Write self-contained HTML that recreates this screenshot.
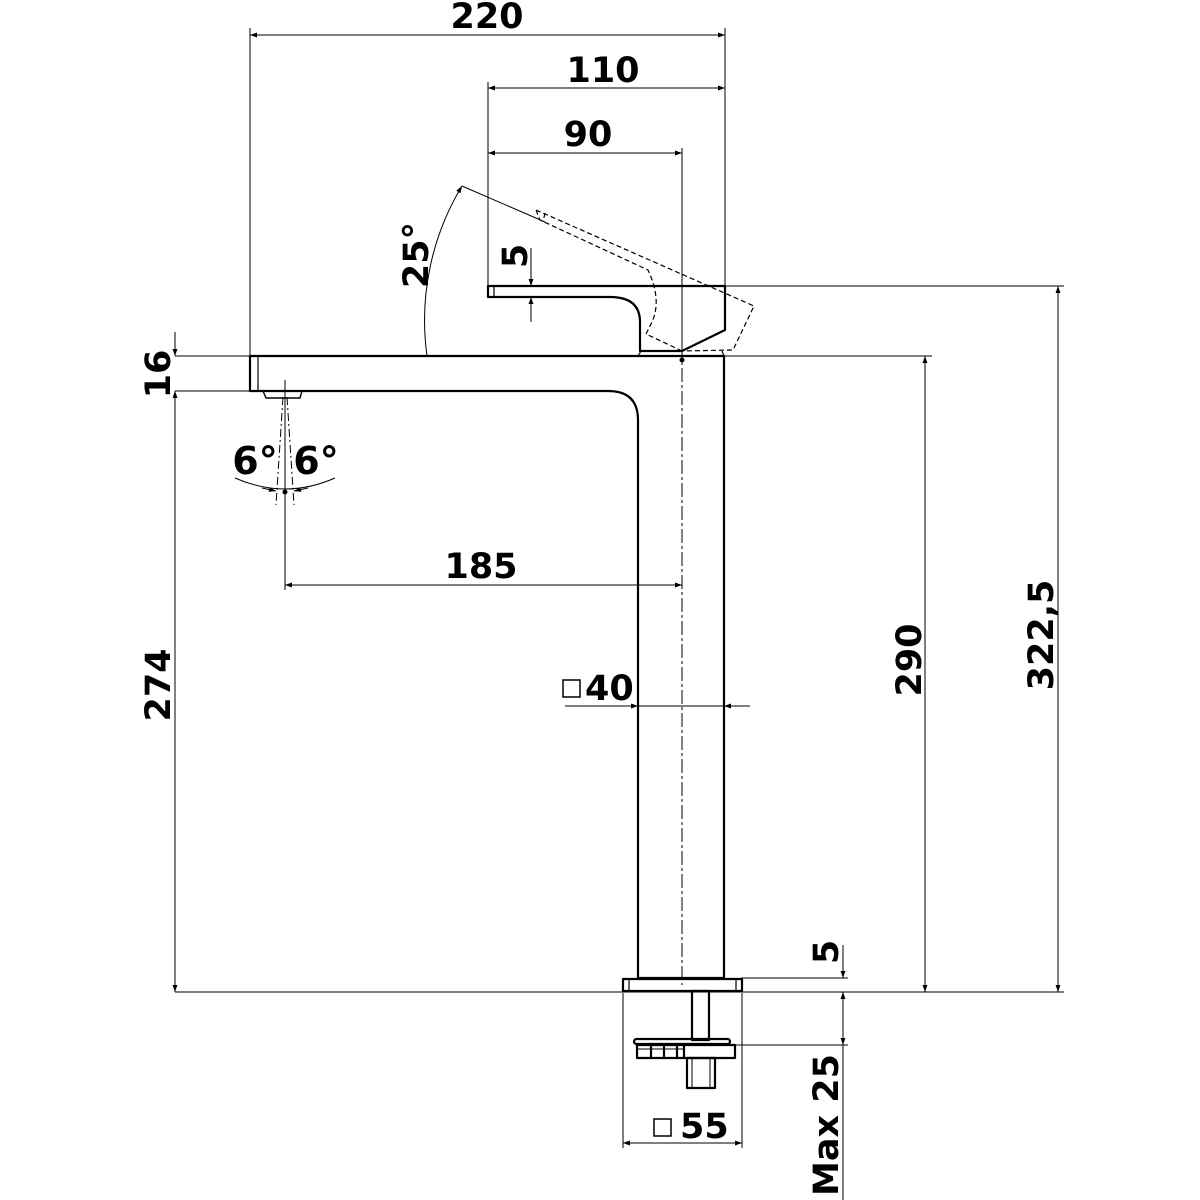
<!DOCTYPE html>
<html><head><meta charset="utf-8"><style>
html,body{margin:0;padding:0;background:#fff}
svg{display:block}
text{font-family:"DejaVu Sans","Liberation Sans",sans-serif;font-weight:bold;font-size:35px;fill:#000}
</style></head><body>
<svg width="1200" height="1200" viewBox="0 0 1200 1200" xmlns="http://www.w3.org/2000/svg">
<defs>
<marker id="a" viewBox="0 0 10 10" refX="10" refY="5" markerWidth="10" markerHeight="7" orient="auto-start-reverse" markerUnits="userSpaceOnUse"><path d="M0,1.5 L10,5 L0,8.5 z" fill="#000"/></marker>
</defs>
<g stroke="#000" stroke-width="1" fill="none">
<line x1="250" y1="28" x2="250" y2="356"/>
<line x1="725" y1="28" x2="725" y2="286"/>
<line x1="488" y1="82" x2="488" y2="286"/>
<line x1="682" y1="148" x2="682" y2="345"/>
<line x1="725" y1="286" x2="1064" y2="286"/>
<line x1="724" y1="356" x2="932" y2="356"/>
<line x1="175" y1="356" x2="250" y2="356"/>
<line x1="175" y1="391" x2="258" y2="391"/>
<line x1="175" y1="992" x2="1064" y2="992"/>
<line x1="735" y1="1045" x2="848" y2="1045"/>
<line x1="741" y1="978" x2="848" y2="978"/>
<line x1="623" y1="993" x2="623" y2="1148"/>
<line x1="742" y1="993" x2="742" y2="1148"/>
<line x1="285" y1="380" x2="285" y2="590"/>
<line x1="250" y1="35" x2="725" y2="35" marker-start="url(#a)" marker-end="url(#a)"/>
<line x1="488" y1="88" x2="725" y2="88" marker-start="url(#a)" marker-end="url(#a)"/>
<line x1="488" y1="153" x2="682" y2="153" marker-start="url(#a)" marker-end="url(#a)"/>
<line x1="285" y1="585" x2="682" y2="585" marker-start="url(#a)" marker-end="url(#a)"/>
<line x1="175" y1="391" x2="175" y2="992" marker-start="url(#a)" marker-end="url(#a)"/>
<line x1="175" y1="332" x2="175" y2="356" marker-end="url(#a)"/>
<line x1="925" y1="356" x2="925" y2="992" marker-start="url(#a)" marker-end="url(#a)"/>
<line x1="1058" y1="286" x2="1058" y2="992" marker-start="url(#a)" marker-end="url(#a)"/>
<line x1="843" y1="945" x2="843" y2="978" marker-end="url(#a)"/>
<line x1="843" y1="992" x2="843" y2="1045" marker-start="url(#a)" marker-end="url(#a)"/>
<line x1="843" y1="1045" x2="843" y2="1200"/>
<line x1="531" y1="248" x2="531" y2="286" marker-end="url(#a)"/>
<line x1="531" y1="297" x2="531" y2="322" marker-start="url(#a)"/>
<line x1="623" y1="1143" x2="742" y2="1143" marker-start="url(#a)" marker-end="url(#a)"/>
<line x1="565" y1="706" x2="638" y2="706" marker-end="url(#a)"/>
<line x1="638" y1="706" x2="724" y2="706"/>
<line x1="750" y1="706" x2="724" y2="706" marker-end="url(#a)"/>
<path d="M427,356 A260,260 0 0 1 462,186" marker-end="url(#a)"/>
<line x1="462" y1="186" x2="545" y2="222"/>
<path d="M235,478 Q285,500 335,478"/>
<line x1="283" y1="397" x2="276" y2="505" stroke-dasharray="8,3,2,3"/>
<line x1="287" y1="397" x2="294" y2="505" stroke-dasharray="8,3,2,3"/>
<line x1="262" y1="488" x2="276" y2="491" marker-end="url(#a)"/>
<line x1="308" y1="488" x2="294" y2="491" marker-end="url(#a)"/>
<line x1="682" y1="345" x2="682" y2="985" stroke-dasharray="14,3,3,3"/>
</g>
<circle cx="682" cy="360" r="2.5" fill="#000"/>
<circle cx="285" cy="492" r="2.5" fill="#000"/>
<g stroke="#000" stroke-width="2.2" fill="none" stroke-linejoin="round">
<path d="M250,356 L724,356 L724,978 L638,978 L638,420 Q638,391 608,391 L250,391 Z"/>
<line x1="258" y1="356" x2="258" y2="391" stroke-width="1.2"/>
<path d="M263,391 L266,398 L300,398 L302,391" stroke-width="1.4"/>
<path d="M488,286 L725,286 L725,330 L682,351 L640,351 L640,322 Q640,297 610,297 L488,297 Z"/>
<line x1="494" y1="286" x2="494" y2="297" stroke-width="1.2"/>
<line x1="641" y1="351" x2="638" y2="356" stroke-width="1.2"/>
<line x1="722" y1="351" x2="724" y2="356" stroke-width="1.2"/>
<rect x="623" y="979" width="119" height="12"/>
<line x1="629" y1="979" x2="629" y2="991" stroke-width="1.2"/>
<line x1="736" y1="979" x2="736" y2="991" stroke-width="1.2"/>
<rect x="692" y="991" width="17" height="49"/>
<rect x="634" y="1039" width="96" height="5" rx="2.5"/>
<rect x="637" y="1045" width="98" height="13"/>
<line x1="651" y1="1045" x2="651" y2="1058"/><line x1="664" y1="1045" x2="664" y2="1058"/><line x1="677" y1="1045" x2="677" y2="1058"/><line x1="684" y1="1045" x2="684" y2="1058"/>
<line x1="637" y1="1049" x2="684" y2="1049" stroke-width="1"/>
<rect x="687" y="1058" width="28" height="30"/>
<line x1="692" y1="1058" x2="692" y2="1088" stroke-width="1"/><line x1="710" y1="1058" x2="710" y2="1088" stroke-width="1"/>
</g>
<g stroke="#000" stroke-width="1.2" fill="none" stroke-dasharray="5,3">
<path d="M536,210 L754,306 L733,350 L682,351 M536,210 L540,220 L648,270 Q662,300 652,322 L646,334 L682,351"/>
<line x1="545" y1="213" x2="543" y2="222"/>
</g>
<text x="487" y="28" text-anchor="middle">220</text>
<text x="603" y="82" text-anchor="middle">110</text>
<text x="588" y="146" text-anchor="middle">90</text>
<text x="481" y="578" text-anchor="middle">185</text>
<text x="585" y="700">40</text>
<rect x="563" y="680" width="17" height="17" fill="none" stroke="#000" stroke-width="1.5"/>
<text x="680" y="1138">55</text>
<rect x="654" y="1119" width="17" height="17" fill="none" stroke="#000" stroke-width="1.5"/>
<text transform="translate(170,374) rotate(-90)" text-anchor="middle">16</text>
<text transform="translate(170,685) rotate(-90)" text-anchor="middle">274</text>
<text transform="translate(921,660) rotate(-90)" text-anchor="middle">290</text>
<text transform="translate(1053,635) rotate(-90)" text-anchor="middle">322,5</text>
<text transform="translate(838,952) rotate(-90)" text-anchor="middle">5</text>
<text transform="translate(838,1125) rotate(-90)" text-anchor="middle">Max 25</text>
<text transform="translate(527,256) rotate(-90)" text-anchor="middle">5</text>
<text transform="translate(428,255) rotate(-90)" text-anchor="middle">25°</text>
<text x="255" y="474" text-anchor="middle" style="font-size:38px">6°</text>
<text x="316" y="474" text-anchor="middle" style="font-size:38px">6°</text>
</svg>
</body></html>
